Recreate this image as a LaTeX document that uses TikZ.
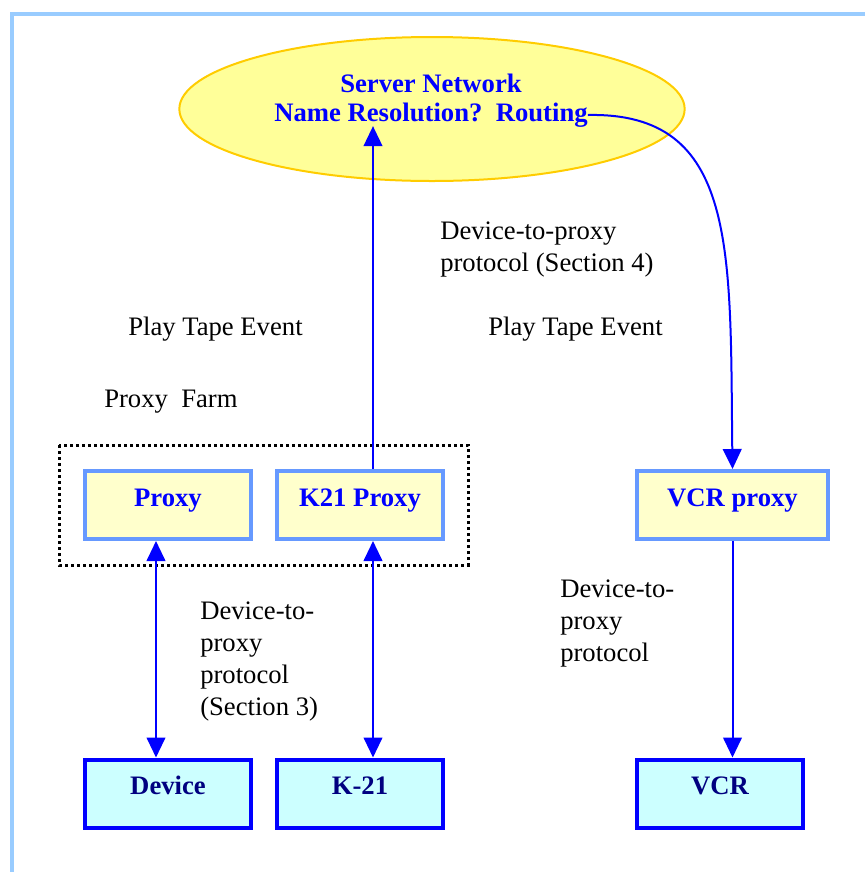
\documentclass[tikz,border=0pt]{standalone}
\usepackage{fontspec}
\setmainfont{Liberation Serif}
\usetikzlibrary{shapes.geometric,arrows.meta}

\definecolor{framecol}{HTML}{99CCFF}
\definecolor{netfill}{HTML}{FFFF99}
\definecolor{netline}{HTML}{FFCC00}
\definecolor{pxfill}{HTML}{FFFFCC}
\definecolor{pxline}{HTML}{6699FF}
\definecolor{devfill}{HTML}{CCFFFF}
\definecolor{navy}{HTML}{000080}

\begin{document}
\begin{tikzpicture}
[x=0.75pt,y=-0.75pt]
\tikzset{txt/.style={font=\fontsize{20}{24}\selectfont,inner sep=0pt},
  label/.style={txt,anchor=west,align=left},
  proxybox/.style={txt,draw=pxline,fill=pxfill,line width=3pt,minimum width=124.5pt,minimum height=51pt,
    text height=0.7em,text depth=0.5em,text=blue,font=\fontsize{20}{24}\selectfont\bfseries},
  devbox/.style={proxybox,draw=blue,fill=devfill,text=navy},
  link/.style={draw=blue,line width=1.5pt,>={Triangle[length=15pt,width=14pt]}}}
\useasboundingbox (0,0) rectangle (865,872);
\draw [framecol,line width=3pt] (12,872) -- (12,14) -- (865,14);

% server side
\node [ellipse,draw=netline,fill=netfill,line width=1.5pt,minimum width=379pt,minimum height=108pt] (net) at (432,109) {};
\node [txt,font=\fontsize{20}{24}\selectfont\bfseries,text=blue] (srv1) at (431,83) {Server Network};
\node [txt,font=\fontsize{20}{24}\selectfont\bfseries,text=blue,inner ysep=-1pt] (srv2) at (431,115) {Name Resolution?~~Routing};

% proxies
\node [proxybox] (proxy) at (168,505) {Proxy};
\node [proxybox] (k21p) at (360,505) {K21 Proxy};
\node [proxybox,minimum width=143pt] (vcrp) at (732.5,505) {VCR proxy};
\draw [line width=2.25pt,dash pattern=on 2.25pt off 2.25pt] (59,445) rectangle (468,565);

% devices
\node [devbox] (dev) at (168,793.5) {Device};
\node [devbox] (k21) at (360,793.5) {K-21};
\node [devbox] (vcr) at (720,793.5) {VCR};

% labels
\node [label] (l1) at (440,250) {Device-to-proxy\\protocol (Section 4)};
\node [label] (l2) at (128,329) {Play Tape Event};
\node [label] (l3) at (488,329) {Play Tape Event};
\node [label] (l4) at (104,402) {Proxy~~Farm};
\node [label] (l5) at (200,662) {Device-to-\\proxy\\protocol\\(Section 3)};
\node [label] (l6) at (560,623.5) {Device-to-\\proxy\\protocol};

% connectors
\draw [link,->] ([xshift=9.75pt]k21p.north) -- ([xshift=9.75pt]k21p.north |- srv2.south);
\draw [link,->] (srv2.east) .. controls (738,112) and (730,250) .. (vcrp.north);
\foreach \from/\to/\dx in {proxy/dev/-9pt,k21p/k21/9.75pt}
	\draw [link,<->] ([xshift=\dx]\from.south) -- ([xshift=\dx]\to.north);
\draw [link,->] (vcrp.south) -- (vcrp.south |- vcr.north);

\end{tikzpicture}
\end{document}
